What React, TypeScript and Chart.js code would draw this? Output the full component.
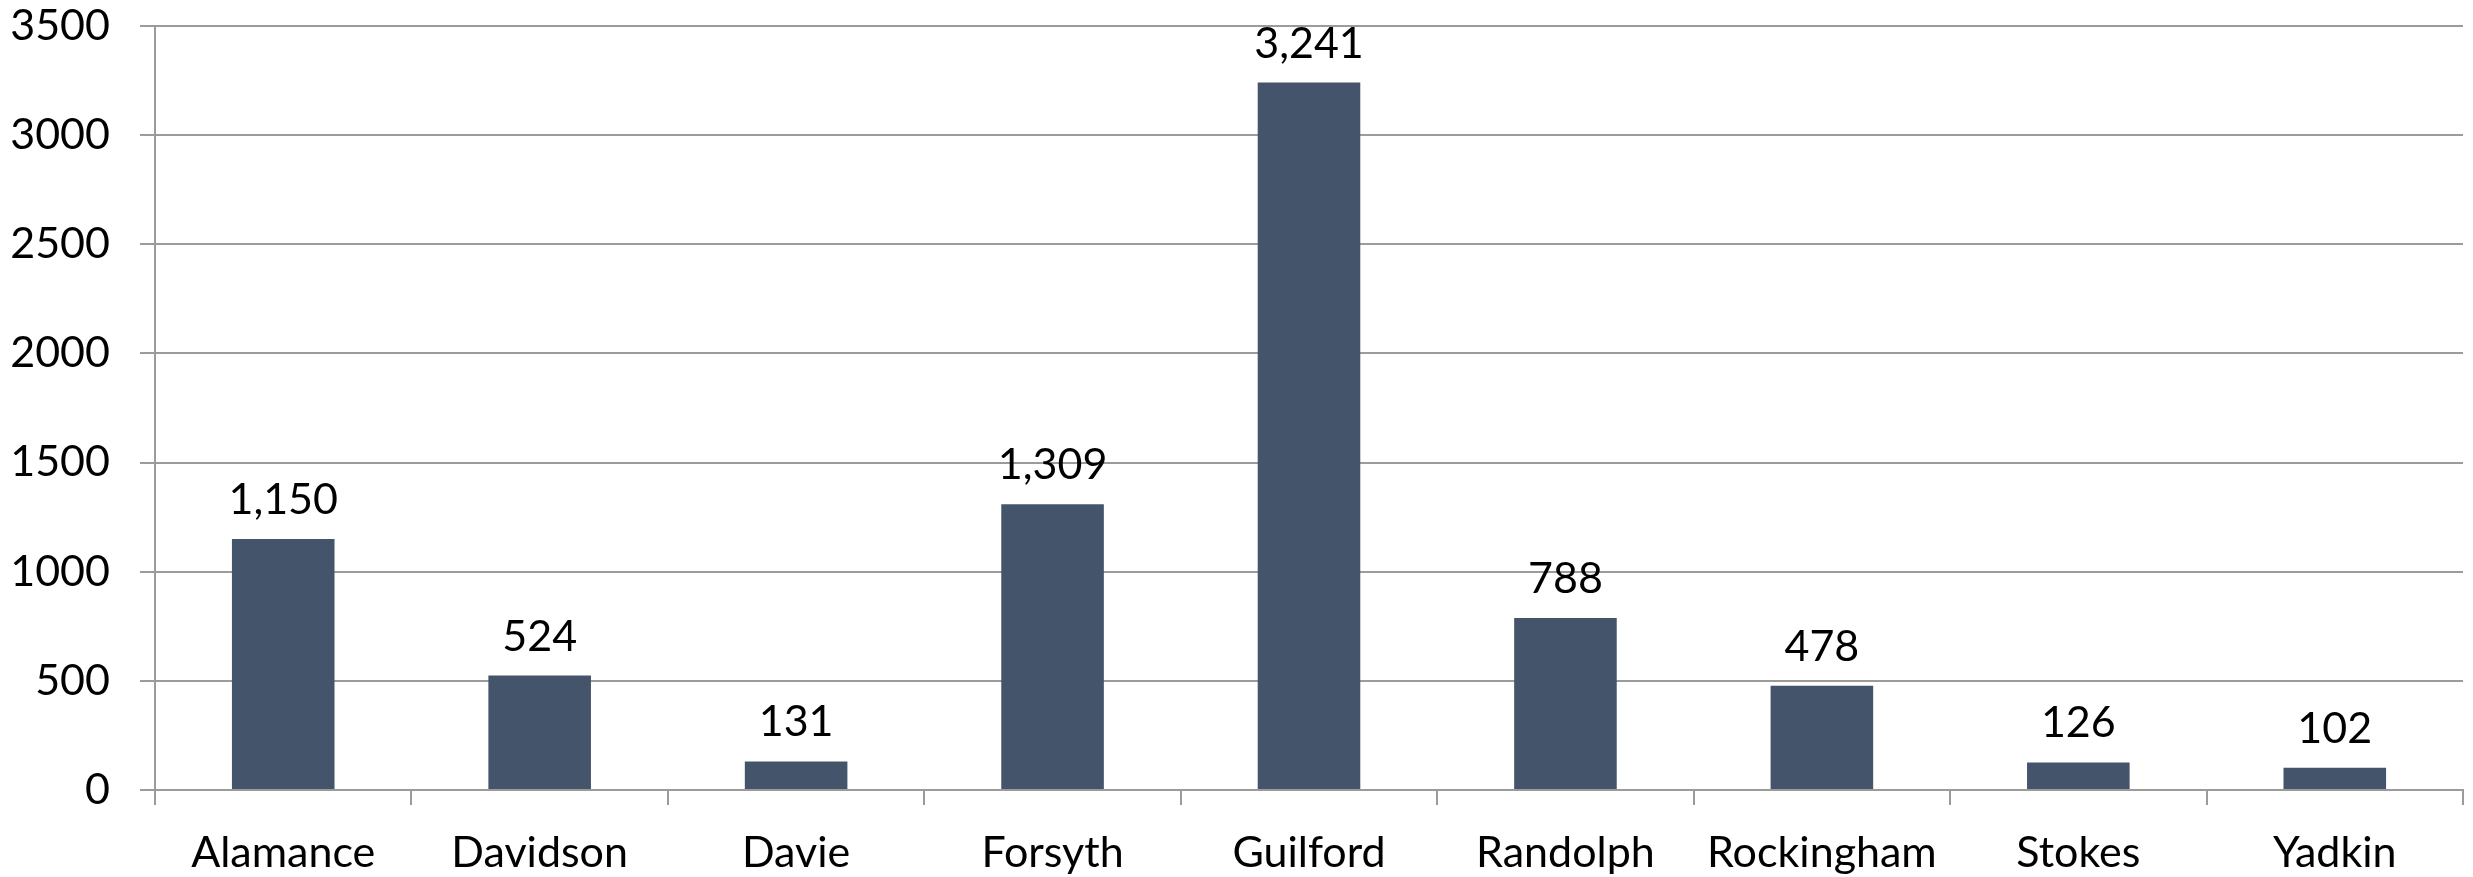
import React, { useEffect, useRef } from "react";
import { Chart, registerables } from "chart.js";

Chart.register(...registerables);

const categories = ["Alamance", "Davidson", "Davie", "Forsyth", "Guilford", "Randolph", "Rockingham", "Stokes", "Yadkin"];
const values = [1150, 524, 131, 1309, 3241, 788, 478, 126, 102];
const yMin = 0;
const yMax = 3500;
const yStep = 500;

const FONT = "Lato, 'Open Sans', sans-serif";
const FONT_SIZE = 43;
const BAR_COLOR = "#44546A";
const GRID_COLOR = "#9b9b9b";

const dataLabelPlugin = {
  id: "dataLabels",
  afterDatasetsDraw(chart: any) {
    const ctx = chart.ctx;
    const meta = chart.getDatasetMeta(0);
    ctx.save();
    ctx.font = `${FONT_SIZE}px ${FONT}`;
    ctx.fillStyle = "#000000";
    ctx.textAlign = "center";
    ctx.textBaseline = "alphabetic";
    meta.data.forEach((bar: any, i: number) => {
      const v = values[i];
      ctx.fillText(v.toLocaleString("en-US"), bar.x, bar.y - 25);
    });
    ctx.restore();
  },
};

export default function App() {
  const canvasRef = useRef<HTMLCanvasElement | null>(null);

  useEffect(() => {
    if (!canvasRef.current) return;
    const chart = new Chart(canvasRef.current, {
      type: "bar",
      data: {
        labels: categories,
        datasets: [
          {
            data: values,
            backgroundColor: BAR_COLOR,
            borderWidth: 0,
            categoryPercentage: 1,
            barPercentage: 0.4,
          },
        ],
      },
      options: {
        responsive: false,
        animation: false,
        devicePixelRatio: 1,
        layout: { padding: { top: 26, right: 10, left: 0, bottom: 0 } },
        plugins: {
          legend: { display: false },
          tooltip: { enabled: false },
        },
        scales: {
          x: {
            offset: true,
            grid: {
              offset: true,
              drawOnChartArea: false,
              drawTicks: true,
              tickLength: 15,
              color: GRID_COLOR,
              lineWidth: 2,
            },
            border: { display: true, color: GRID_COLOR, width: 2 },
            ticks: {
              color: "#000000",
              font: { family: FONT, size: FONT_SIZE },
              padding: 22,
              maxRotation: 0,
              autoSkip: false,
            },
            afterFit(scale: any) {
              scale.height = 87;
              scale.paddingLeft = 0;
              scale.paddingRight = 0;
            },
          },
          y: {
            min: yMin,
            max: yMax,
            grid: {
              color: GRID_COLOR,
              lineWidth: 2,
              drawTicks: true,
              tickLength: 15,
            },
            border: { display: true, color: GRID_COLOR, width: 2 },
            ticks: {
              stepSize: yStep,
              color: "#000000",
              font: { family: FONT, size: FONT_SIZE },
              padding: 30,
              callback: (v: any) => String(v),
            },
            afterFit(scale: any) {
              scale.width = 155;
              scale.paddingTop = 0;
              scale.paddingBottom = 0;
            },
          },
        },
      },
      plugins: [dataLabelPlugin],
    });
    return () => chart.destroy();
  }, []);

  return (
    <div style={{ position: "fixed", left: 0, top: 0, width: 2473, height: 877, background: "#ffffff" }}>
      <canvas ref={canvasRef} width={2473} height={877} style={{ display: "block" }} />
    </div>
  );
}
